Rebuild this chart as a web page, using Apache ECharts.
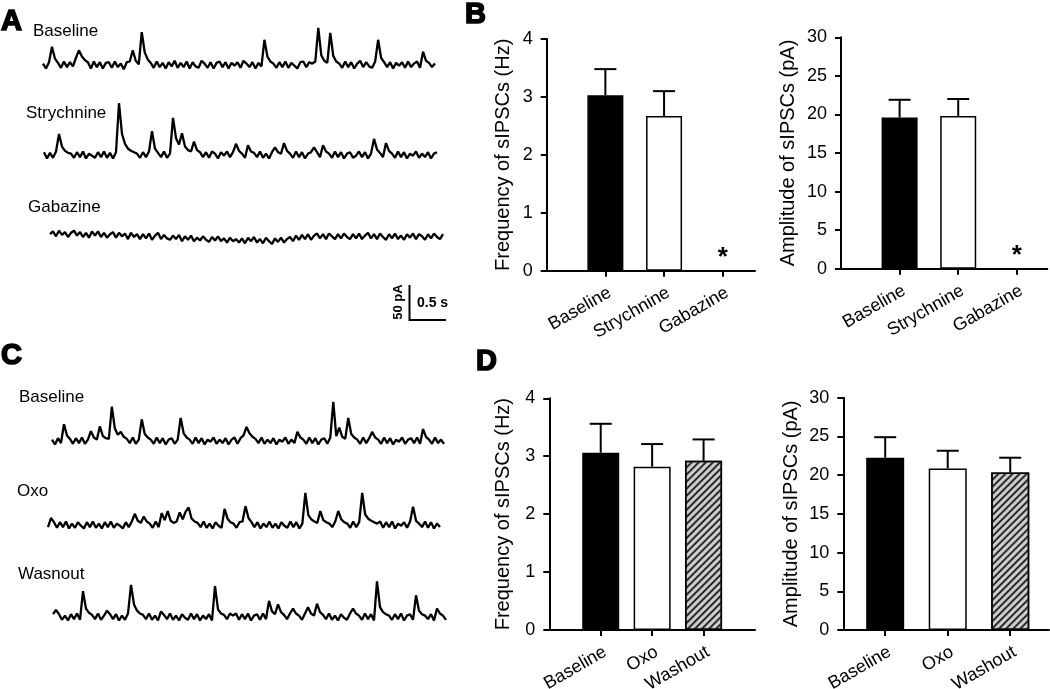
<!DOCTYPE html>
<html>
<head>
<meta charset="utf-8">
<script src="https://cdn.jsdelivr.net/npm/echarts@6/dist/echarts.min.js"></script>
<style>
  html, body { margin: 0; background: #fff; }
  #chart { width: 1050px; height: 689px; }
</style>
</head>
<body>
<div id="chart"></div>
<script>
// sampling step of the recorded traces (s)
const DT = 0.04

// panel A traces (pA), one sample every DT
const traceABaseline = [
  2, -5, 4, 26, 9, 3, -4, 5, -3, 4,
  -2, 10, 21, 12, 7, 4, -5, 5, -3, 4,
  -5, 3, 4, -4, 5, -3, 2, -6, 4, 5,
  21, 6, 1, 47, 18, 8, 3, -4, 5, -3,
  3, -5, 4, -2, 6, -4, 3, -3, 5, -5,
  4, -2, -4, 6, 2, -4, 4, -5, 3, 5,
  -3, 4, -5, 3, -1, 4, -4, 6, 2, -3,
  4, -5, 3, -2, 36, 12, 5, 2, -4, 4,
  -3, 5, -4, 3, -1, -5, 4, 5, -3, 4,
  2, 5, 53, 14, 6, 3, 46, 13, 5, 2,
  -4, 5, -3, 4, -5, 2, 6, -3, 4, -2,
  -4, 5, 36, 10, 4, -3, 4, -5, 3, -1,
  4, -4, 5, -3, 2, 5, -4, 19, 6, 3,
  -3, 2
]
const traceAStrychnine = [
  4, -5, 3, -4, 5, 30, 12, 6, 3, 2,
  -4, 4, -3, 5, -5, 2, -1, -4, 4, -3,
  5, -4, 3, -5, 4, 74, 30, 16, 9, 6,
  4, 2, -4, 4, -3, 5, 34, 9, 3, -3,
  5, -4, 2, 53, 24, 15, 31, 12, 7, 5,
  19, 7, 4, -3, 4, -4, 5, 2, -5, 4,
  -1, 5, -3, 4, 16, 6, 2, -4, 14, 5,
  3, -3, 5, -4, 2, -5, 4, 11, 4, 2,
  17, 6, 2, -4, 5, -3, 4, -5, 2, 4,
  11, 4, -3, 14, 5, 2, -4, 5, -3, 4,
  -5, 2, 4, -4, -1, 5, -3, 4, -5, 2,
  23, 8, 3, -3, 17, 6, 2, -4, 5, -3,
  4, -5, 2, -1, 5, -4, 2, -3, 4, -5,
  2, 4
]
const traceAGabazine = [
  4, 8, 1, 9, 3, 7, 0, 6, 9, 2,
  7, 0, 6, -1, 8, 2, 8, 0, 6, -1,
  4, 7, -1, 6, 1, 5, -3, 6, 0, 4,
  -3, 4, -2, 5, -4, 2, 6, -3, 3, -2,
  -4, 2, -3, 3, -6, 1, -4, 2, -6, -1,
  -5, 1, -4, -7, 0, -5, 1, -6, -2, -8,
  -1, -6, -3, -8, -2, -9, -1, -6, 0, -8,
  -3, -9, -1, -6, -10, -2, -7, -1, -8, -3,
  0, -6, 2, -4, 3, -3, 4, -4, 2, 5,
  -2, 4, -3, 5, 1, -3, 4, -2, 5, 0,
  -3, 4, -2, 5, -3, 2, 6, -2, 4, -3,
  5, 0, -4, 4, -2, 5, -3, 2, -4, 4,
  -1, 5, -3, 4, 1, -4, 4, -2, 5, 0,
  -3, 4
]

// panel C traces (pA)
const traceCBaseline = [
  2, -5, 4, -3, 24, 8, 3, -4, 4, -3,
  5, -4, 2, 14, 5, 2, 21, 7, 4, 3,
  49, 18, 9, 13, 6, 3, -3, 5, -4, 2,
  31, 10, 5, 2, -4, 5, -3, 4, -5, 2,
  4, -4, 2, 33, 11, 5, 2, -4, 5, -3,
  4, -5, 2, -1, 5, -4, 2, -3, 4, -5,
  2, 5, -4, 4, 8, 20, 11, 6, 3, -3,
  5, -4, 2, -3, 4, -5, 2, -1, 5, -4,
  2, -3, 13, 5, 2, -4, 5, -3, 4, -5,
  2, 4, -4, 5, 56, 7, 19, 6, 3, 33,
  10, 5, 2, -4, 5, -3, 4, 13, 5, 2,
  -4, 5, -3, 4, -5, 2, -1, 5, -4, 2,
  4, -3, 5, -4, 17, 6, 2, -4, 5, -3,
  2, -4
]
const traceCOxo = [
  -3, 10, 4, -4, 4, -3, 5, -5, 2, -4,
  4, -1, -5, 4, -3, 5, -4, 2, -5, 4,
  -3, 5, -4, 2, -1, -5, 4, -3, 5, 16,
  6, 3, 12, 5, 2, -4, 5, -3, 17, 7,
  20, 6, 3, 5, 18, 8, 19, 25, 9, 5,
  3, -3, 5, -4, 2, -5, 4, -1, -4, 23,
  9, 4, 2, -4, 4, 5, 27, 10, 4, -3,
  4, -5, 2, -3, 5, -4, 2, -5, 4, -1,
  -4, 5, -3, 4, -5, 2, 46, 14, 8, 5,
  3, 20, 7, 4, 2, -3, 5, 20, 8, 4,
  2, -4, 5, -3, 4, 46, 15, 9, 6, 4,
  2, 5, -4, 4, -3, 5, -5, 2, -1, 4,
  -4, 5, 26, 6, 2, -3, 5, -4, 4, -5,
  2, -3
]
const traceCWashout = [
  4, 10, 4, -4, 2, -5, 4, -3, 5, -4,
  37, 12, 6, 3, -3, 5, -4, 2, 9, 4,
  -3, 4, -5, 2, -4, 5, 46, 18, 9, 5,
  3, -3, 5, -4, 2, -5, 8, 3, -3, 5,
  -4, 2, -5, 4, -1, -4, 5, -3, 4, -5,
  2, -3, 4, -5, 44, 11, 5, 3, -3, 5,
  2, 5, -4, 4, -3, 5, -5, 2, 4, -4,
  5, -3, 23, 8, 4, 18, 7, 3, -3, 5,
  12, 5, 2, -4, 5, 14, 5, 2, 19, 7,
  3, -3, 5, -4, 2, -5, 4, -1, -4, 5,
  12, 5, 2, -4, 5, -3, 4, -5, 51, 14,
  7, 4, 2, -4, 4, -3, 5, -5, 2, 4,
  -4, 31, 9, 4, 2, -3, 4, -5, 12, 5,
  2, -4
]

// panel B / D bar data (mean, SEM)
const catsB = ['Baseline', 'Strychnine', 'Gabazine']
const freqB = [3.03, 2.67, 0]
const freqBErr = [0.45, 0.43, 0]
const ampB = [19.6, 19.8, 0]
const ampBErr = [2.3, 2.2, 0]

const catsD = ['Baseline', 'Oxo', 'Washout']
const freqD = [3.06, 2.82, 2.92]
const freqDErr = [0.50, 0.39, 0.37]
const ampD = [22.25, 20.85, 20.35]
const ampDErr = [2.65, 2.3, 1.9]

const FONT = "'Liberation Sans', Arial, sans-serif"

const fillBlack = { color: '#000', borderColor: '#000', borderWidth: 1.5 }
const fillWhite = { color: '#fff', borderColor: '#000', borderWidth: 1.5 }
const fillNone = { color: 'transparent', borderWidth: 0 }
const fillHatch = {
  color: '#cdcdcd', borderColor: '#000', borderWidth: 1.5,
  decal: {
    symbol: 'rect', symbolSize: 1, dashArrayX: [1, 0], dashArrayY: [1.3, 2.8],
    rotation: -Math.PI / 4, color: '#2a2a2a'
  }
}

const chart = echarts.init(document.getElementById('chart'), null, { renderer: 'canvas' })

const grids = []
const xAxes = []
const yAxes = []
const series = []

// traces: each one gets its own hidden grid, 0.7 px per pA
const traces = [
  { data: traceABaseline, left: 43, top: 9, width: 392 },
  { data: traceAStrychnine, left: 44, top: 99, width: 393 },
  { data: traceAGabazine, left: 50, top: 181, width: 393 },
  { data: traceCBaseline, left: 52, top: 385, width: 392 },
  { data: traceCOxo, left: 48, top: 469, width: 392 },
  { data: traceCWashout, left: 53, top: 561, width: 393 }
]
traces.forEach((t, i) => {
  grids.push({ left: t.left, top: t.top, width: t.width, height: 70, outerBoundsMode: 'none' })
  xAxes.push({ type: 'value', gridIndex: i, min: 0, max: 131 * DT, show: false })
  yAxes.push({ type: 'value', gridIndex: i, min: -20, max: 80, show: false })
  series.push({
    type: 'line', xAxisIndex: i, yAxisIndex: i, silent: true,
    showSymbol: false, symbol: 'none',
    lineStyle: { color: '#000', width: 2.3 },
    data: t.data.map((v, k) => [k * DT, v])
  })
})

// bar panels
const panels = [
  { cats: catsB, vals: freqB, errs: freqBErr, fills: [fillBlack, fillWhite, fillNone],
    left: 546.7, top: 39, width: 208.3, height: 231.7, xMin: 0, xMax: 3.55,
    yMax: 4, yStep: 1, name: 'Frequency of sIPSCs (Hz)', nameGap: 33, barW: 36 },
  { cats: catsB, vals: ampB, errs: ampBErr, fills: [fillBlack, fillWhite, fillNone],
    left: 841, top: 37.3, width: 206.3, height: 231.4, xMin: 0, xMax: 3.52,
    yMax: 30, yStep: 5, name: 'Amplitude of sIPSCs (pA)', nameGap: 43, barW: 36 },
  { cats: catsD, vals: freqD, errs: freqDErr, fills: [fillBlack, fillWhite, fillHatch],
    left: 549.3, top: 398.3, width: 205.7, height: 231.7, xMin: 0, xMax: 4,
    yMax: 4, yStep: 1, name: 'Frequency of sIPSCs (Hz)', nameGap: 36, barW: 37 },
  { cats: catsD, vals: ampD, errs: ampDErr, fills: [fillBlack, fillWhite, fillHatch],
    left: 843.3, top: 397.7, width: 205.7, height: 232.3, xMin: 0.33, xMax: 3.62,
    yMax: 30, yStep: 5, name: 'Amplitude of sIPSCs (pA)', nameGap: 42, barW: 38 }
]

const axisLine = { show: true, onZero: false, lineStyle: { color: '#000', width: 2 } }
const axisTick = { show: true, length: 6, lineStyle: { color: '#000', width: 2 } }

panels.forEach((p, j) => {
  const gi = traces.length + j
  const pos = p.cats.map((c, k) => k + 1)
  grids.push({ left: p.left, top: p.top, width: p.width, height: p.height,
    containLabel: false, outerBoundsMode: 'none' })
  xAxes.push({
    type: 'value', gridIndex: gi, min: p.xMin, max: p.xMax,
    axisLine,
    axisTick: Object.assign({ customValues: pos }, axisTick),
    axisLabel: {
      customValues: pos, formatter: v => p.cats[Math.round(v) - 1],
      rotate: 30, margin: 13, align: 'right', verticalAlign: 'top',
      fontSize: 18, color: '#000', fontFamily: FONT
    },
    splitLine: { show: false }
  })
  yAxes.push({
    type: 'value', gridIndex: gi, min: 0, max: p.yMax, interval: p.yStep,
    axisLine, axisTick,
    axisLabel: { margin: 14, fontSize: 18, color: '#000', fontFamily: FONT },
    splitLine: { show: false },
    name: p.name, nameLocation: 'middle', nameGap: p.nameGap,
    nameTextStyle: { fontSize: 20, color: '#000', fontFamily: FONT }
  })
  series.push({
    type: 'bar', xAxisIndex: gi, yAxisIndex: gi, barWidth: p.barW, silent: true,
    data: p.vals.map((v, k) => ({ value: [k + 1, v], itemStyle: p.fills[k] })),
    label: {
      show: true, position: 'top', distance: 0,
      formatter: q => (q.value[1] === 0 ? '*' : ''),
      fontSize: 26, fontWeight: 'bold', color: '#000', fontFamily: FONT
    }
  })
  series.push({
    type: 'custom', xAxisIndex: gi, yAxisIndex: gi, silent: true, z: 3,
    data: p.vals.map((v, k) => [k + 1, v, p.errs[k]]),
    renderItem: (params, api) => {
      const e = api.value(2)
      if (!e) return null
      const lo = api.coord([api.value(0), api.value(1)])
      const hi = api.coord([api.value(0), api.value(1) + e])
      const style = { stroke: '#000', lineWidth: 2 }
      return {
        type: 'group',
        children: [
          { type: 'line', shape: { x1: lo[0], y1: lo[1], x2: hi[0], y2: hi[1] }, style },
          { type: 'line', shape: { x1: hi[0] - 11, y1: hi[1], x2: hi[0] + 11, y2: hi[1] }, style }
        ]
      }
    }
  })
})

function txt(x, y, text, size, weight, extra) {
  return Object.assign({
    type: 'text', x, y, silent: true,
    style: { text, fontSize: size, fontWeight: weight || 'normal', fontFamily: FONT,
      fill: '#000', verticalAlign: 'middle' }
  }, extra || {})
}

// panel letters, a touch heavier than plain bold
function letter(x, y, text) {
  return {
    type: 'text', x, y, silent: true,
    style: { text, fontSize: 29, fontWeight: 'bold', fontFamily: FONT, fill: '#000',
      stroke: '#000', lineWidth: 1.6, verticalAlign: 'middle' }
  }
}

const graphic = [
  letter(1, 22, 'A'),
  letter(465, 15, 'B'),
  letter(1, 356, 'C'),
  letter(476, 362, 'D'),
  txt(33, 31, 'Baseline', 17),
  txt(26, 113, 'Strychnine', 17),
  txt(28, 207, 'Gabazine', 17),
  txt(19, 397, 'Baseline', 17),
  txt(17, 491, 'Oxo', 17),
  txt(18, 574, 'Wasnout', 17),
  // scale bar
  {
    type: 'polyline', silent: true,
    shape: { points: [[409.5, 285], [409.5, 320], [446, 320]] },
    style: { stroke: '#000', lineWidth: 2, fill: null }
  },
  {
    type: 'text', x: 398, y: 302, rotation: Math.PI / 2, silent: true,
    style: { text: '50 pA', fontSize: 13, fontWeight: 'bold', fontFamily: FONT, fill: '#000',
      align: 'center', verticalAlign: 'middle' }
  },
  txt(417, 303, '0.5 s', 14, 'bold')
]

chart.setOption({
  animation: false,
  backgroundColor: '#fff',
  grid: grids,
  xAxis: xAxes,
  yAxis: yAxes,
  series,
  graphic
})
</script>
</body>
</html>
